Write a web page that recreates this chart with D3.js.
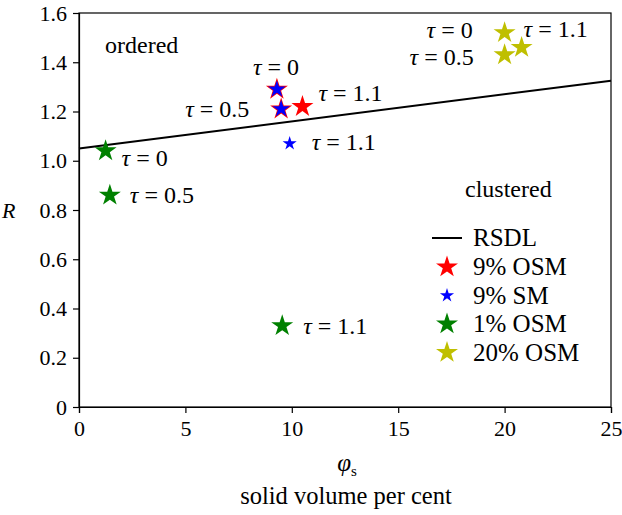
<!DOCTYPE html>
<html>
<head>
<meta charset="utf-8">
<script src="https://cdn.jsdelivr.net/npm/d3@7"></script>
<style>
  body { margin: 0; background: #fff; }
  text { font-family: "Liberation Serif", "DejaVu Serif", serif; fill: #000; }
</style>
</head>
<body>
<div id="chart"></div>
<script>
const margin = {top: 13, right: 11, bottom: 108, left: 79};
const width = 622 - margin.left - margin.right;
const height = 515 - margin.top - margin.bottom;

// RSDL line end points (phi, R)
const rsdlPhi = [0, 25];
const rsdlR = [1.05, 1.325];

// series: phi values, R values, tau labels
const seriesNames = ["9% OSM", "9% SM", "1% OSM", "20% OSM"];
const seriesColors = ["#ff0000", "#0000ff", "#008000", "#bfbf00"];
const osm9Phi = [9.3, 9.5, 10.5];
const osm9R = [1.29, 1.21, 1.22];
const sm9Phi = [9.3, 9.5, 9.9];
const sm9R = [1.29, 1.21, 1.07];
const osm1Phi = [1.25, 1.45, 9.55];
const osm1R = [1.04, 0.86, 0.33];
const osm20Phi = [20.0, 20.0, 20.8];
const osm20R = [1.52, 1.43, 1.46];
const tauLabels = ["0", "0.5", "1.1"];

const xTicks = [0, 5, 10, 15, 20, 25];
const yTicks = [0, 0.2, 0.4, 0.6, 0.8, 1.0, 1.2, 1.4, 1.6];

const svg = d3.select("#chart")
    .append("svg")
    .attr("width", width + margin.left + margin.right)
    .attr("height", height + margin.top + margin.bottom)
    .append("g")
    .attr("transform", "translate(" + margin.left + "," + margin.top + ")");

const x = d3.scaleLinear().domain([0, 25]).range([0, width]);
const y = d3.scaleLinear().domain([0, 1.6]).range([height, 0]);

// frame
svg.append("rect")
    .attr("width", width).attr("height", height)
    .style("fill", "none").style("stroke", "#000").style("stroke-width", 1.2);

const xAxis = svg.append("g")
    .attr("transform", `translate(0, ${height})`)
    .call(d3.axisBottom(x).tickValues(xTicks).tickSize(6).tickPadding(7).tickFormat(d3.format("d")));
const yAxis = svg.append("g")
    .call(d3.axisLeft(y).tickValues(yTicks).tickSize(6).tickPadding(6)
        .tickFormat(d => d === 0 ? "0" : d3.format(".1f")(d)));

[xAxis, yAxis].forEach(a => {
    a.selectAll("path").style("stroke", "#000").style("stroke-width", 1.2);
    a.selectAll("line").style("stroke", "#000").style("stroke-width", 1.2);
    a.selectAll("text").style("font-family", "Liberation Serif, serif").style("font-size", "22px").style("fill", "#000");
});

// RSDL line
svg.append("line")
    .attr("x1", x(rsdlPhi[0])).attr("y1", y(rsdlR[0]))
    .attr("x2", x(rsdlPhi[1])).attr("y2", y(rsdlR[1]))
    .style("stroke", "#000").style("stroke-width", 2);

const bigStar = d3.symbol().type(d3.symbolStar).size(150);
const smallStar = d3.symbol().type(d3.symbolStar).size(62);
const midStar = d3.symbol().type(d3.symbolStar).size(95);

function drawStars(phi, R, color, sym) {
    svg.append("g").selectAll("path")
        .data(phi.map((p, i) => ({p: p, r: R[i]})))
        .enter().append("path")
        .attr("d", sym)
        .attr("transform", d => `translate(${x(d.p)},${y(d.r)})`)
        .style("fill", color);
}

drawStars(osm9Phi, osm9R, seriesColors[0], bigStar);
drawStars(sm9Phi.slice(0, 2), sm9R.slice(0, 2), seriesColors[1], midStar);
drawStars(sm9Phi.slice(2), sm9R.slice(2), seriesColors[1], smallStar);
drawStars(osm1Phi, osm1R, seriesColors[2], bigStar);
drawStars(osm20Phi, osm20R, seriesColors[3], bigStar);

// tau annotations: [phi, R, label index, dx, dy]
const tauNotes = [
    [sm9Phi[0], sm9R[0], 0, -24, -14],
    [sm9Phi[1], sm9R[1], 1, -96, 8],
    [osm9Phi[2], osm9R[2], 2, 16, -6],
    [sm9Phi[2], sm9R[2], 2, 22, 6],
    [osm1Phi[0], osm1R[0], 0, 16, 15],
    [osm1Phi[1], osm1R[1], 1, 20, 8],
    [osm1Phi[2], osm1R[2], 2, 21, 8],
    [osm20Phi[0], osm20R[0], 0, -78, 5],
    [osm20Phi[1], osm20R[1], 1, -95, 10],
    [osm20Phi[2], osm20R[2], 2, 2, -10]
];

tauNotes.forEach(n => {
    const t = svg.append("text")
        .attr("x", x(n[0]) + n[3])
        .attr("y", y(n[1]) + n[4])
        .style("font-size", "24px");
    t.append("tspan").style("font-style", "italic").text("τ");
    t.append("tspan").text(" = " + tauLabels[n[2]]);
});

svg.append("text").attr("x", 26).attr("y", 40).style("font-size", "24px").text("ordered");
svg.append("text").attr("x", 386).attr("y", 184).style("font-size", "24px").text("clustered");

// legend
const legend = svg.append("g").attr("transform", "translate(353, 225)");
legend.append("line").attr("x1", 0).attr("x2", 30).attr("y1", 0).attr("y2", 0)
    .style("stroke", "#000").style("stroke-width", 2);
legend.append("text").attr("x", 41).attr("y", 8).style("font-size", "25px").text("RSDL");
seriesNames.forEach((name, i) => {
    const yy = 29 + i * 28.5;
    legend.append("path")
        .attr("d", i === 1 ? smallStar : bigStar)
        .attr("transform", `translate(15,${yy})`)
        .style("fill", seriesColors[i]);
    legend.append("text").attr("x", 41).attr("y", yy + 8).style("font-size", "25px").text(name);
});

// axis titles
svg.append("text")
    .attr("x", -77).attr("y", height / 2 + 8)
    .style("font-size", "22px").style("font-style", "italic").text("R");

const xt = svg.append("text")
    .attr("x", width / 2 + 2).attr("y", height + 64)
    .attr("text-anchor", "middle")
    .style("font-size", "25px");
xt.append("tspan").style("font-style", "italic").text("φ");
xt.append("tspan").attr("dy", 5).style("font-size", "15px").text("s");

svg.append("text")
    .attr("x", width / 2 + 1).attr("y", height + 97)
    .attr("text-anchor", "middle")
    .style("font-size", "24.5px").text("solid volume per cent");
</script>
</body>
</html>
